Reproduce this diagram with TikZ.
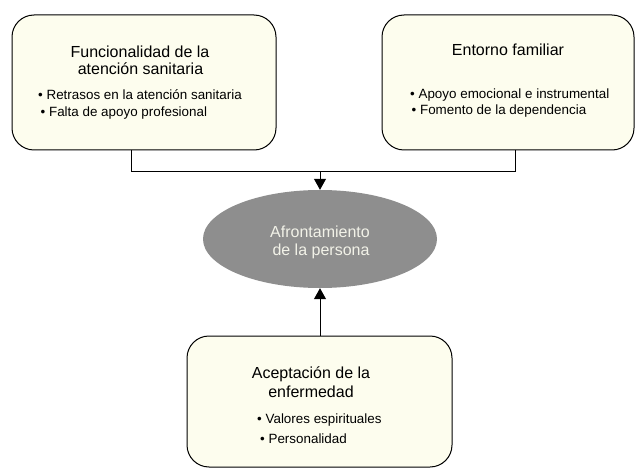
\documentclass[tikz,border=0pt]{standalone}
\usepackage{fontspec}
\setmainfont{Liberation Sans}
\usetikzlibrary{arrows.meta,shapes.geometric}
\definecolor{cream}{RGB}{253,253,238}
\definecolor{ellgray}{RGB}{142,142,142}
\definecolor{elltext}{RGB}{242,242,232}
\tikzset{
  boxstyle/.style={draw=black, line width=1pt, fill=cream, rounded corners=22pt, inner sep=0pt},
  titletext/.style={anchor=base, inner sep=0pt, font=\fontsize{16}{17}\selectfont},
  bullettext/.style={anchor=base west, inner sep=0pt, font=\fontsize{13.4}{15}\selectfont},
  elltxt/.style={anchor=base, inner sep=0pt, text=elltext, font=\fontsize{16}{17}\selectfont},
  conn/.style={line width=1pt},
  arr/.style={line width=1pt, -{Triangle[width=12pt,length=11pt]}}
}
\begin{document}
\begin{tikzpicture}[x=1pt,y=-1pt]
\useasboundingbox (0,0) rectangle (635,468);
\begin{scope}
\clip (0,0) rectangle (635,468);
% boxes
\node[boxstyle, minimum width=264pt, minimum height=135pt] (f) at (144,82.5) {};
\node[boxstyle, minimum width=252pt, minimum height=135pt] (e) at (508,82.5) {};
\node[boxstyle, minimum width=265pt, minimum height=131pt] (g) at (319.5,401.5) {};
\node[ellipse, fill=ellgray, minimum width=234pt, minimum height=98pt, inner sep=0pt] (a) at (320,239) {};
\end{scope}
% texts box 1
\node[titletext] (f1) at (140,58) {Funcionalidad de la};
\node[titletext] (f2) at (140.5,75) {atención sanitaria};
\node[bullettext] (f3) at (38,100) {• Retrasos en la atención sanitaria};
\node[bullettext] (f4) at (40.5,116.5) {• Falta de apoyo profesional};
% texts box 2
\node[titletext] (e1) at (508,56) {Entorno familiar};
\node[bullettext] (e3) at (410,99) {• Apoyo emocional e instrumental};
\node[bullettext] (e4) at (411.5,115) {• Fomento de la dependencia};
% texts box 3
\node[titletext] (g1) at (311,378) {Aceptación de la};
\node[titletext] (g2) at (311,397) {enfermedad};
\node[bullettext] (g3) at (257,423) {• Valores espirituales};
\node[bullettext] (g4) at (260,443) {• Personalidad};
% ellipse text
\node[elltxt] (a1) at (320,237) {Afrontamiento};
\node[elltxt] (a2) at (321,255) {de la persona};
% connectors
\coordinate (c1) at (131,172);
\coordinate (c2) at (515,172);
\coordinate (j) at (320,172);
\draw[conn] (c1 |- f.south) -- (c1) -- (c2) -- (c2 |- e.south);
\draw[arr] (j) -- (a.north);
\draw[arr] (a.south |- g.north) -- (a.south);
\end{tikzpicture}
\end{document}
